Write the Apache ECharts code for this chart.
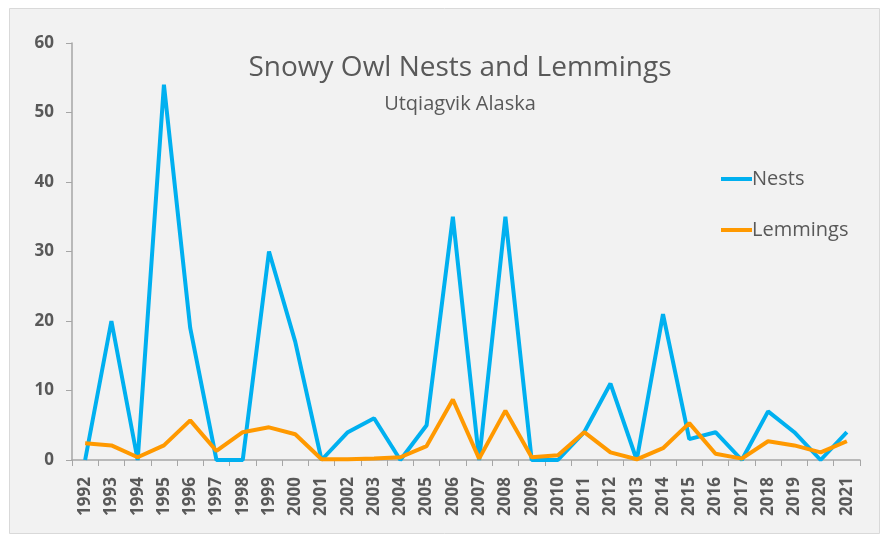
<!DOCTYPE html>
<html><head><meta charset="utf-8">
<script src="https://cdn.jsdelivr.net/npm/echarts@6/dist/echarts.min.js"></script>
<style>html,body{margin:0;padding:0;background:#fff}#c{width:885px;height:539px}</style>
</head><body><div id="c"></div>
<script>
const years = ['1992','1993','1994','1995','1996','1997','1998','1999','2000','2001','2002','2003','2004','2005','2006','2007','2008','2009','2010','2011','2012','2013','2014','2015','2016','2017','2018','2019','2020','2021'];
const nests = [0,20,0,54,19,0,0,30,17,0,4,6,0,5,35,0,35,0,0,4,11,0,21,3,4,0,7,4,0,4];
const lemmings = [2.4,2.1,0.4,2.1,5.7,1.3,4.0,4.7,3.7,0.1,0.1,0.2,0.4,2.0,8.7,0.2,7.1,0.4,0.7,4.0,1.1,0.1,1.7,5.3,0.9,0.2,2.7,2.1,1.1,2.7];
const yTicks = [0,10,20,30,40,50,60];

const chart = echarts.init(document.getElementById('c'));
const font = '"Open Sans", "Liberation Sans", sans-serif';
chart.setOption({
  backgroundColor: '#ffffff',
  animation: false,
  graphic: [{type:'rect', z:-10, shape:{x:9.5,y:8.5,width:870,height:525}, style:{fill:'#f2f2f2', stroke:'#d9d9d9', lineWidth:1}}],
  title: {
    text: 'Snowy Owl Nests and Lemmings',
    subtext: 'Utqiagvik Alaska',
    left: 455, top: 49, textAlign: 'center', itemGap: 12,
    textStyle: {fontFamily: font, fontWeight: 'normal', fontSize: 28, color: '#595959'},
    subtextStyle: {fontFamily: font, fontSize: 20, color: '#595959'}
  },
  legend: {
    orient: 'vertical', left: 716, top: 164, itemGap: 31, itemWidth: 31, itemHeight: 4,
    icon: 'rect',
    textStyle: {fontFamily: font, fontSize: 20, color: '#595959', padding:[0,0,0,-5]},
    data: ['Nests','Lemmings']
  },
  grid: {left: 72, right: 25, top: 43, bottom: 79},
  xAxis: {
    type: 'category', data: years, boundaryGap: true,
    axisLine: {lineStyle: {color: '#a6a6a6', width: 1.5}},
    axisTick: {show: true, length: 6, lineStyle: {color: '#a6a6a6'}},
    axisLabel: {rotate: 90, interval: 0, fontFamily: font, fontWeight: 'bold', fontSize: 17, color: '#595959', margin: 17}
  },
  yAxis: {
    type: 'value', min: 0, max: 60, interval: 10,
    axisLine: {show: true, lineStyle: {color: '#a6a6a6', width: 1.5}},
    axisTick: {show: true, length: 6, lineStyle: {color: '#a6a6a6'}},
    splitLine: {show: false},
    axisLabel: {fontFamily: font, fontWeight: 'bold', fontSize: 17, color: '#595959', margin: 18,
      formatter: v => yTicks.includes(v) ? String(v) : ''}
  },
  series: [
    {name: 'Nests', type: 'line', data: nests, symbol: 'none', lineStyle: {color: '#00b0f0', width: 4}, itemStyle: {color: '#00b0f0'}},
    {name: 'Lemmings', type: 'line', data: lemmings, symbol: 'none', lineStyle: {color: '#ff9900', width: 4}, itemStyle: {color: '#ff9900'}}
  ]
});
</script></body></html>
